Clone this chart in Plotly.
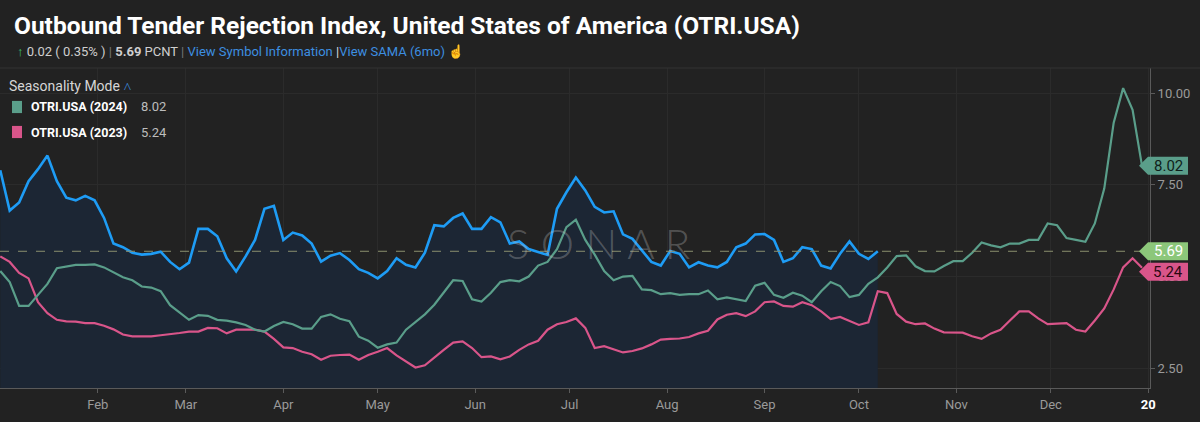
import pandas as pd
import plotly.graph_objects as go

# seasonality view: every series is drawn on the same calendar year, one point every 3 days
dates = pd.date_range("2025-01-01", periods=122, freq="3D")

otri_2025 = [7.9, 6.8, 7.02, 7.6, 7.93, 8.3, 7.6, 7.15, 7.08, 7.2, 7.08, 6.6, 5.9, 5.8, 5.65, 5.6, 5.62, 5.68, 5.4, 5.2, 5.38, 6.3,
             6.3, 6.1, 5.5, 5.14, 5.55, 6.0, 6.85, 6.93, 6.0, 6.2, 6.12, 5.9, 5.41, 5.57, 5.64, 5.45, 5.2, 5.1, 4.95, 5.15, 5.5,
             5.32, 5.25, 5.65, 6.4, 6.37, 6.6, 6.72, 6.3, 6.3, 6.62, 6.48, 5.9, 5.96, 5.75, 5.68, 5.59, 6.85, 7.3, 7.7, 7.35, 6.9,
             6.75, 6.78, 6.15, 6.03, 5.72, 5.4, 5.3, 5.7, 5.62, 5.25, 5.39, 5.3, 5.25, 5.4, 5.8, 5.9, 6.15, 6.16, 6.0, 5.4, 5.5, 5.8,
             5.75, 5.3, 5.22, 5.62, 5.96, 5.62, 5.48, 5.69]

otri_2024 = [5.15, 4.85, 4.2, 4.2, 4.5, 4.8, 5.23, 5.27, 5.32, 5.32, 5.33, 5.25, 5.12, 4.98, 4.9, 4.73, 4.7, 4.6, 4.22, 4.03, 3.82, 3.95,
             3.93, 3.82, 3.8, 3.75, 3.68, 3.55, 3.5, 3.65, 3.76, 3.7, 3.58, 3.58, 3.9, 3.97, 3.85, 3.78, 3.36, 3.25, 3.06, 3.15, 3.2,
             3.55, 3.77, 3.97, 4.23, 4.55, 4.9, 4.88, 4.38, 4.32, 4.56, 4.85, 4.9, 4.87, 5.0, 5.3, 5.4, 5.75, 6.35, 6.55, 6.0, 5.6,
             5.15, 4.9, 5.0, 5.02, 4.65, 4.63, 4.52, 4.55, 4.5, 4.52, 4.52, 4.62, 4.38, 4.43, 4.37, 4.33, 4.75, 4.83, 4.5, 4.42, 4.56, 4.48,
             4.3, 4.6, 4.85, 4.74, 4.44, 4.5, 4.8, 4.98, 5.25, 5.56, 5.58, 5.28, 5.15, 5.14, 5.29, 5.42, 5.42, 5.65, 5.93, 5.85,
             5.8, 5.9, 5.9, 6.0, 6.0, 6.45, 6.4, 6.05, 6.0, 5.95, 6.45, 7.4, 9.2, 10.14, 9.55, 8.02]

otri_2023 = [5.55, 5.4, 5.1, 4.95, 4.3, 4.0, 3.82, 3.78, 3.77, 3.73, 3.73, 3.66, 3.56, 3.42, 3.37, 3.36, 3.37, 3.4, 3.42, 3.46, 3.5, 3.5,
             3.6, 3.59, 3.45, 3.55, 3.55, 3.55, 3.5, 3.3, 3.07, 3.05, 2.95, 2.88, 2.73, 2.84, 2.86, 2.87, 2.73, 2.86, 2.95, 3.05, 2.85,
             2.68, 2.52, 2.58, 2.8, 3.0, 3.2, 3.23, 3.05, 2.8, 2.82, 2.74, 2.82, 3.0, 3.15, 3.25, 3.55, 3.7, 3.76, 3.86, 3.6, 3.05,
             3.1, 3.02, 2.93, 2.97, 3.04, 3.15, 3.28, 3.3, 3.31, 3.35, 3.45, 3.52, 3.83, 3.96, 4.0, 3.92, 4.05, 4.3, 4.32, 4.2, 4.18, 4.3,
             4.22, 4.05, 3.84, 3.9, 3.8, 3.68, 3.75, 4.6, 4.55, 3.98, 3.77, 3.7, 3.72, 3.58, 3.48, 3.48, 3.47, 3.37, 3.3, 3.45,
             3.55, 3.8, 4.05, 4.05, 3.86, 3.7, 3.72, 3.73, 3.55, 3.5, 3.8, 4.13, 4.65, 5.25, 5.5, 5.24]

current_value = 5.69
last_2024 = 8.02
last_2023 = 5.24

month_ticks = ["2025-02-01", "2025-03-01", "2025-04-01", "2025-05-01", "2025-06-01", "2025-07-01",
               "2025-08-01", "2025-09-01", "2025-10-01", "2025-11-01", "2025-12-01", "2026-01-01"]
month_labels = ["Feb", "Mar", "Apr", "May", "Jun", "Jul", "Aug", "Sep", "Oct", "Nov", "Dec",
                "<span style='color:#ffffff'><b>20</b></span>"]
y_ticks = [2.5, 5.0, 7.5, 10.0]
y_labels = ["2.50", "5.00", "7.50", "10.00"]

BLUE = "#1e9cf5"
GREEN = "#5a9e8a"
PINK = "#d9558a"
BG = "#222222"
FONT = "Roboto"

fig = go.Figure()

# shaded area under the current year
fig.add_trace(go.Scatter(x=dates[:len(otri_2025)], y=otri_2025, mode="lines", line=dict(width=0),
                         fill="tozeroy", fillcolor="#1c2634", hoverinfo="skip", showlegend=False))
fig.add_trace(go.Scatter(x=dates, y=otri_2023, mode="lines", line=dict(color=PINK, width=2.2), showlegend=False))
fig.add_trace(go.Scatter(x=dates, y=otri_2024, mode="lines", line=dict(color=GREEN, width=2.2), showlegend=False))
fig.add_trace(go.Scatter(x=dates[:len(otri_2025)], y=otri_2025, mode="lines", line=dict(color=BLUE, width=2.6),
                         showlegend=False))

# dashed line at the latest value
fig.add_hline(y=current_value, line=dict(color="#8a8f6e", width=1, dash="dash"))

# price flags on the right axis
flags = [(last_2024, GREEN, "#0f1f1b", 0), (current_value, "#8cc77a", "#ffffff", 0), (last_2023, PINK, "#2a0812", -4)]
for val, col, tcol, shift in flags:
    fig.add_shape(type="path", xref="paper", yref="y", xsizemode="pixel", ysizemode="pixel",
                  xanchor=1, yanchor=val,
                  path=f"M -11,{shift} L -2,{shift + 9} L 38,{shift + 9} L 38,{shift - 9} L -2,{shift - 9} Z",
                  fillcolor=col, line=dict(width=0), layer="above")
    fig.add_annotation(xref="paper", yref="y", x=1, y=val, xshift=18, yshift=shift, text=f"{val:.2f}",
                       showarrow=False, xanchor="center", yanchor="middle",
                       font=dict(family=FONT, size=15, color=tcol))

# title and header line
fig.add_annotation(xref="paper", yref="paper", x=12 / 1150, y=(388 - 25) / 320, xanchor="left", yanchor="middle",
                   showarrow=False,
                   text="<b>Outbound Tender Rejection Index, United States of America (OTRI.USA)</b>",
                   font=dict(family=FONT, size=24.5, color="#ffffff"))
fig.add_annotation(xref="paper", yref="paper", x=15 / 1150, y=(388 - 52) / 320, xanchor="left", yanchor="middle",
                   showarrow=False,
                   text="<span style='color:#3ec46d'>↑</span> 0.02 ( 0.35% ) <span style='color:#777'>|</span> "
                        "<b>5.69</b> PCNT <span style='color:#777'>|</span> "
                        "<span style='color:#3d8fe0'>View Symbol Information</span> "
                        "<span style='color:#dddddd'>|</span><span style='color:#3d8fe0'>View SAMA (6mo)</span> "
                        "<span style='color:#e8c21a'>☝</span>",
                   font=dict(family=FONT, size=13, color="#cfcfcf"))

# legend block
fig.add_annotation(xref="paper", yref="paper", x=7 / 1150, y=(388 - 86) / 320, xanchor="left", yanchor="middle",
                   showarrow=False, text="Seasonality Mode <span style='color:#3d8fe0'>˄</span>",
                   font=dict(family=FONT, size=14, color="#d6d6d6"))
rows = [("OTRI.USA (2024)", last_2024, GREEN, 107), ("OTRI.USA (2023)", last_2023, PINK, 132)]
for name, val, col, ypx in rows:
    yp = (388 - ypx) / 320
    fig.add_shape(type="rect", xref="paper", yref="paper", x0=12 / 1150, x1=22 / 1150, y0=yp - 0.019, y1=yp + 0.019,
                  fillcolor=col, line=dict(width=0), layer="above")
    fig.add_annotation(xref="paper", yref="paper", x=29 / 1150, y=yp, xanchor="left", yanchor="middle",
                       showarrow=False, text=f"<b>{name}</b>", font=dict(family=FONT, size=12.5, color="#ffffff"))
    fig.add_annotation(xref="paper", yref="paper", x=139 / 1150, y=yp, xanchor="left", yanchor="middle",
                       showarrow=False, text=f"{val:.2f}", font=dict(family=FONT, size=13, color="#bdbdbd"))

# watermark
fig.add_annotation(xref="paper", yref="paper", x=598 / 1150, y=(388 - 243) / 320, xanchor="center", yanchor="middle",
                   showarrow=False, text="S O N A R",
                   font=dict(family="Lato", size=42, color="rgba(200,200,200,0.3)", weight=300))

# separator under the header
fig.add_shape(type="line", xref="paper", yref="paper", x0=0, x1=1200 / 1150, y0=1.0, y1=1.0,
              line=dict(color="#333333", width=1))

fig.update_layout(
    width=1200, height=422,
    margin=dict(l=0, r=50, t=68, b=34, autoexpand=False),
    paper_bgcolor=BG, plot_bgcolor=BG,
    font=dict(family=FONT, color="#9a9a9a"),
    showlegend=False,
    xaxis=dict(type="date", range=["2024-12-31 22:00", "2026-01-01 13:00"], tickvals=month_ticks,
               ticktext=month_labels, showgrid=True, gridcolor="#2b2b2b", gridwidth=1, automargin=False,
               showline=True, linecolor="#5a5a5a", ticks="outside", ticklen=4, tickcolor="#5a5a5a",
               tickfont=dict(size=13, color="#9a9a9a"), zeroline=False),
    yaxis=dict(side="right", range=[1.96, 10.69], tickvals=y_ticks, ticktext=y_labels, automargin=False,
               showgrid=True, gridcolor="#2b2b2b", showline=True, linecolor="#5a5a5a",
               ticks="outside", ticklen=4, tickcolor="#5a5a5a", tickfont=dict(size=13, color="#9a9a9a"),
               zeroline=False),
)

# the page's default body margin would push the chart 8px right and down
fig.write_html("out.html", config={"displayModeBar": False},
               post_script="document.body.style.margin='0';document.body.style.background='#222222';")
